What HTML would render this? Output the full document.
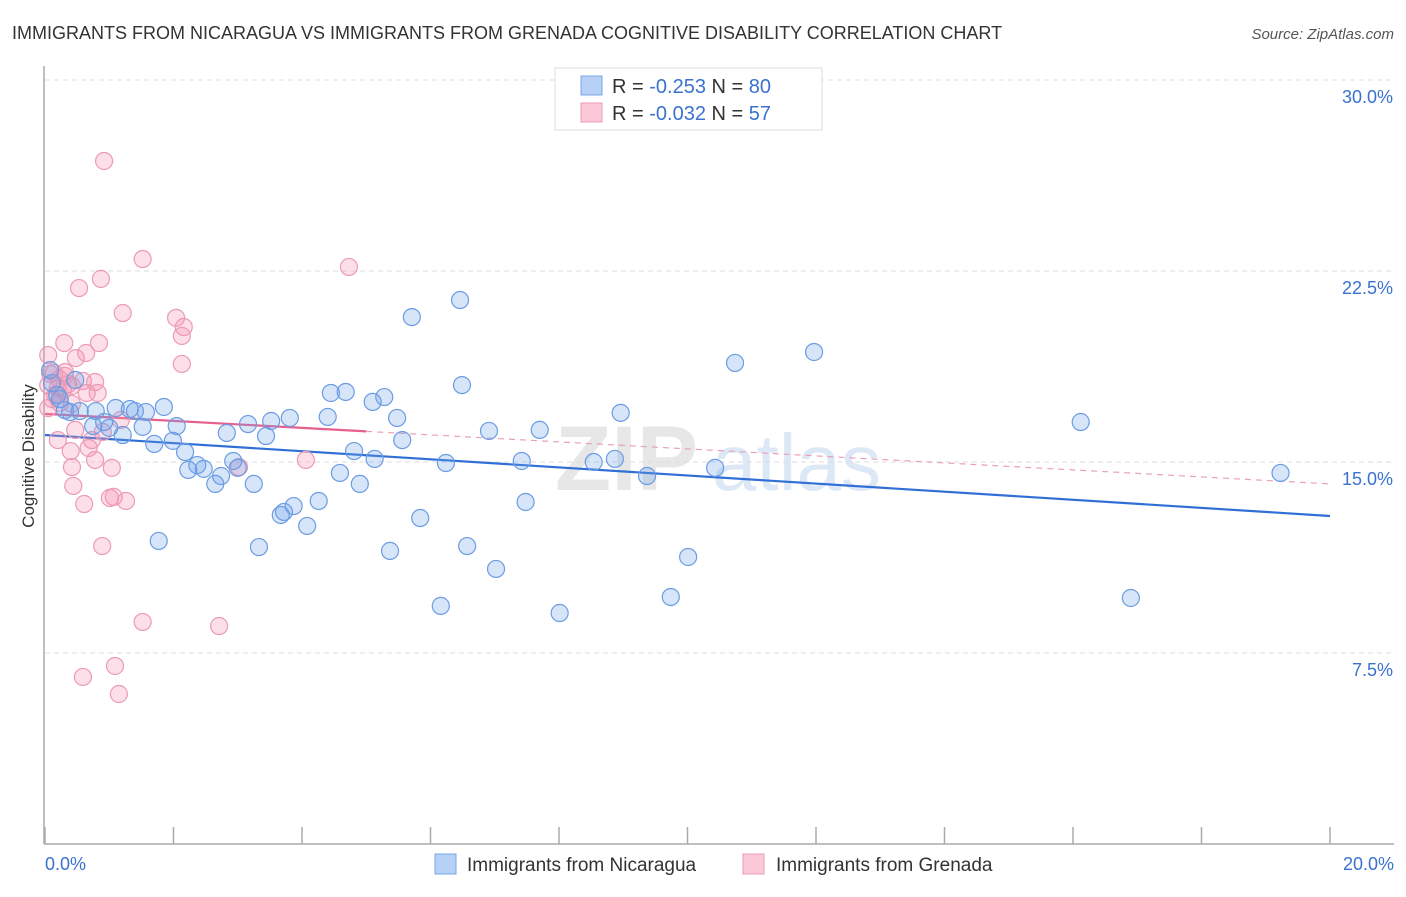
<!DOCTYPE html>
<html><head><meta charset="utf-8"><style>
body{margin:0;background:#fff;font-family:"Liberation Sans",sans-serif;}
svg text{font-family:"Liberation Sans",sans-serif;}
</style></head><body>
<svg id="chart" width="1406" height="892" viewBox="0 0 1406 892" xmlns="http://www.w3.org/2000/svg">
<text x="12" y="39" font-size="18" fill="#333">IMMIGRANTS FROM NICARAGUA VS IMMIGRANTS FROM GRENADA COGNITIVE DISABILITY CORRELATION CHART</text>
<text x="1394" y="39" font-size="15" fill="#555" font-style="italic" text-anchor="end">Source: ZipAtlas.com</text>
<g><text x="555" y="490" font-size="92" fill="#ddd" font-family="Liberation Serif" font-weight="bold" opacity="0.7">ZIP</text><text x="712" y="490" font-size="80" fill="#c8daf2" opacity="0.6">atlas</text></g>
<g id="grid"></g>
<g id="axes"></g>
<g id="trends"></g>
<g id="points"></g>
<text transform="translate(34,456) rotate(-90)" font-size="17" fill="#333" text-anchor="middle">Cognitive Disability</text>
<g>
<rect x="555" y="68" width="267" height="62" fill="#fff" stroke="#ddd"/>
<rect x="581" y="76" width="21" height="19" fill="#b7d0f5" stroke="#7aa6e6"/>
<rect x="581" y="103" width="21" height="19" fill="#fcc9d8" stroke="#ee9ab5"/>
<text x="612" y="93" font-size="20" fill="#333">R = <tspan fill="#3a72d0">-0.253</tspan>   N = <tspan fill="#3a72d0">80</tspan></text>
<text x="612" y="120" font-size="20" fill="#333">R = <tspan fill="#3a72d0">-0.032</tspan>   N = <tspan fill="#3a72d0"> 57</tspan></text>
</g>
<g>
<rect x="435" y="854" width="21" height="20" fill="#b7d0f5" stroke="#7aa6e6"/>
<text x="467" y="871" font-size="19" fill="#333">Immigrants from Nicaragua</text>
<rect x="743" y="854" width="21" height="20" fill="#fcc9d8" stroke="#ee9ab5"/>
<text x="776" y="871" font-size="19" fill="#333">Immigrants from Grenada</text>
</g>
</svg>
<script>
const blueX=[19.23,16.90,16.12,11.97,10.74,10.43,10.01,9.74,9.37,8.96,8.87,8.54,8.01,7.70,7.48,7.42,7.02,6.91,6.57,6.49,6.46,6.24,6.16,5.84,5.71,5.56,5.48,5.37,5.28,5.13,5.10,4.90,4.81,4.68,4.59,4.45,4.40,4.26,4.08,3.87,3.81,3.72,3.67,3.52,3.44,3.33,3.25,3.16,3.00,2.93,2.83,2.74,2.65,2.47,2.37,2.23,2.18,2.05,1.99,1.85,1.77,1.70,1.57,1.52,1.40,1.32,1.21,1.10,1.00,0.92,0.79,0.75,0.54,0.39,0.31,0.23,0.19,0.11,0.08,0.47];
const blueY=[14.57,9.66,16.57,19.32,18.89,14.77,11.27,9.70,14.45,16.93,15.12,15.00,9.07,16.26,13.43,15.04,10.80,16.22,11.70,18.02,21.36,14.96,9.35,12.80,20.69,15.86,16.73,11.51,17.55,15.12,17.36,14.14,15.43,17.75,14.57,17.71,16.77,13.47,12.49,13.27,16.73,13.04,12.92,16.61,16.02,11.66,14.14,16.49,14.77,15.04,16.14,14.45,14.14,14.73,14.88,14.69,15.39,16.41,15.83,17.16,11.90,15.71,16.96,16.38,17.00,17.08,16.06,17.12,16.34,16.57,17.00,16.41,17.00,16.96,17.04,17.47,17.63,18.10,18.61,18.22];
const pinkX=[0.92,1.52,4.73,0.87,0.53,1.21,2.04,2.16,2.13,0.30,0.84,0.64,0.05,0.48,2.13,0.31,0.14,0.22,0.36,0.05,0.20,0.28,0.42,0.59,0.82,0.65,0.11,0.23,0.42,0.05,1.18,0.73,0.20,0.68,0.40,0.78,4.06,0.42,1.04,3.02,0.44,1.07,1.01,1.26,0.61,0.89,1.52,2.71,1.09,0.59,1.15,0.31,0.16,0.78,0.90,0.47,0.08];
const pinkY=[26.82,22.97,22.66,22.19,21.83,20.85,20.66,20.30,19.95,19.67,19.67,19.28,19.20,19.08,18.85,18.53,18.50,18.26,18.06,18.02,17.91,17.83,17.99,18.18,17.71,17.71,17.47,17.32,17.28,17.12,16.65,15.86,15.86,15.55,15.43,15.08,15.08,14.80,14.77,14.80,14.06,13.63,13.59,13.47,13.35,11.70,8.72,8.56,6.99,6.56,5.89,18.38,17.63,18.14,16.18,16.26,18.46];
const blueTrend=[16.06,12.88];
const pinkTrend=[16.89,14.14];
const pinkSolidEnd=5.0;
const yTicks=[7.5,15,22.5,30];
const yTickLabels=["7.5%","15.0%","22.5%","30.0%"];
const xTicks=[0,2,4,6,8,10,12,14,16,18,20];
const xLabels=["0.0%","20.0%"];
const NS="http://www.w3.org/2000/svg";
const X=v=>45+v/20*1285, Y=v=>844-v/7.5*191;
function mk(t,a,p){const e=document.createElementNS(NS,t);for(const k in a)e.setAttribute(k,a[k]);p.appendChild(e);return e;}
const grid=document.getElementById('grid'),axes=document.getElementById('axes'),pts=document.getElementById('points'),tr=document.getElementById('trends');
yTicks.forEach((t,i)=>{
 const l=mk('line',{x1:45,x2:1394,y1:Y(t),y2:Y(t),stroke:'#ddd','stroke-dasharray':'5,4'},grid);
 
 
 const tx=mk('text',{x:1393,y:Y(t)+23,'font-size':18,fill:'#3a72d0','text-anchor':'end'},axes);
 tx.textContent=yTickLabels[i];
 
 
});
mk('line',{x1:44,x2:44,y1:66,y2:844,stroke:'#aaa','stroke-width':1.5},axes);
mk('line',{x1:44,x2:1394,y1:844,y2:844,stroke:'#aaa','stroke-width':1.5},axes);
xTicks.forEach(t=>{const l=mk('line',{x1:X(t),x2:X(t),y1:827,y2:844,stroke:'#aaa','stroke-width':1.5},axes);
 
 });
const xl0=mk('text',{x:45,y:870,'font-size':18,fill:'#3a72d0'},axes);xl0.textContent=xLabels[0];


const xl1=mk('text',{x:1394,y:870,'font-size':18,fill:'#3a72d0','text-anchor':'end'},axes);xl1.textContent=xLabels[1];


function drawPts(xs,ys,fill,stroke,name){xs.forEach((x,i)=>{const c=mk('circle',{cx:X(x),cy:Y(ys[i]),r:8.5,fill:fill,stroke:stroke,'stroke-width':1.2},pts);
 
 });}
drawPts(pinkX,pinkY,'rgba(246,150,180,0.3)','#ec9ab5','grenada-point');
drawPts(blueX,blueY,'rgba(110,160,235,0.28)','#6b9ce3','nicaragua-point');
const bl=mk('line',{x1:X(0),y1:Y(blueTrend[0]),x2:X(20),y2:Y(blueTrend[1]),stroke:'#2f6fd6','stroke-width':2.2},tr);


const pm=pinkTrend[0]+(pinkTrend[1]-pinkTrend[0])*pinkSolidEnd/20;
const pl=mk('line',{x1:X(0),y1:Y(pinkTrend[0]),x2:X(pinkSolidEnd),y2:Y(pm),stroke:'#e5608a','stroke-width':2.2},tr);


const pd=mk('line',{x1:X(pinkSolidEnd),y1:Y(pm),x2:X(20),y2:Y(pinkTrend[1]),stroke:'#eaa0b8','stroke-width':1.2,'stroke-dasharray':'6,5'},tr);


</script>
</body></html>
